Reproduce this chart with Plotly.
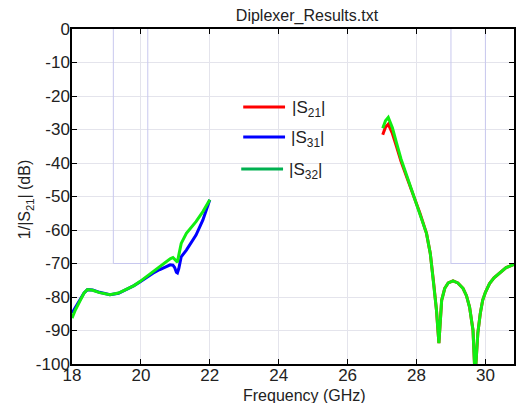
import plotly.graph_objects as go

# ---- data ----
freq_lo = [18.0, 18.1, 18.23, 18.35, 18.45, 18.6, 18.8, 19.1, 19.35, 19.6, 19.8, 19.97, 20.15, 20.35, 20.55, 20.75, 20.85, 20.93, 20.98, 21.03, 21.06, 21.1, 21.17, 21.32, 21.45, 21.6, 21.8, 21.9, 22.0]
s31_lo = [-84.8, -83.0, -81.0, -78.8, -77.8, -77.9, -78.6, -79.3, -78.9, -77.7, -76.6, -75.5, -74.2, -72.9, -71.8, -70.8, -70.4, -70.5, -71.2, -72.6, -72.8, -71.5, -68.0, -66.0, -63.8, -61.5, -57.0, -54.0, -51.0]
s32_lo = [-86.3, -83.8, -81.2, -78.8, -77.8, -78.0, -78.7, -79.3, -78.8, -77.6, -76.6, -75.4, -74.0, -72.5, -70.8, -69.2, -68.6, -68.2, -68.7, -69.5, -69.6, -67.5, -64.0, -61.0, -59.3, -57.5, -54.5, -52.8, -51.0]

freq_hi = [27.02, 27.1, 27.18, 27.3, 27.42, 27.55, 27.71, 27.82, 27.94, 28.1, 28.29, 28.4, 28.5, 28.58, 28.65, 28.69, 28.73, 28.82, 28.92, 29.06, 29.2, 29.35, 29.45, 29.54, 29.64, 29.7, 29.78, 29.85, 29.92, 30.0, 30.12, 30.25, 30.41, 30.6, 30.83]
s21_hi = [-31.6, -29.3, -28.4, -31.2, -35.1, -39.5, -44.0, -47.0, -50.5, -55.0, -61.0, -67.0, -76.0, -84.0, -93.8, -88.0, -81.0, -77.4, -75.8, -75.2, -75.8, -77.4, -79.6, -83.0, -89.9, -104.0, -90.8, -85.0, -81.0, -78.6, -76.0, -74.3, -72.8, -71.2, -70.3]
s32_hi = [-29.6, -27.4, -26.4, -29.5, -34.0, -38.8, -43.6, -46.8, -50.4, -55.0, -61.0, -67.0, -76.0, -84.0, -93.8, -88.0, -81.0, -77.4, -75.8, -75.2, -75.8, -77.4, -79.6, -83.0, -89.9, -104.0, -90.8, -85.0, -81.0, -78.6, -76.0, -74.3, -72.8, -71.2, -70.3]

mask1_x = [19.2, 19.2, 20.2, 20.2]
mask2_x = [29.0, 29.0, 30.0, 30.0]
mask_y = [0, -70, -70, 0]

x_ticks = [18, 20, 22, 24, 26, 28, 30]
y_ticks = [0, -10, -20, -30, -40, -50, -60, -70, -80, -90, -100]

legend_names = ["|S<sub>21</sub>|", "|S<sub>31</sub>|", "|S<sub>32</sub>|"]
legend_colors = ["#ff0000", "#0000ff", "#00b050"]

FONT = "Liberation Sans, Arial, sans-serif"
TXT = "#222222"
mask_color = "#c8c8ee"

fig = go.Figure()
for mx in (mask1_x, mask2_x):
    fig.add_trace(go.Scatter(x=mx, y=mask_y, mode="lines",
                             line=dict(color=mask_color, width=1), showlegend=False, hoverinfo="skip"))

fig.add_trace(go.Scatter(x=freq_hi, y=s21_hi, mode="lines", name="|S21|",
                         line=dict(color="#ff0000", width=3), showlegend=False))
fig.add_trace(go.Scatter(x=freq_lo, y=s31_lo, mode="lines", name="|S31|",
                         line=dict(color="#0000ff", width=3), showlegend=False))
fig.add_trace(go.Scatter(x=freq_lo, y=s32_lo, mode="lines", name="|S32|",
                         line=dict(color="#11ee11", width=3), showlegend=False))
fig.add_trace(go.Scatter(x=freq_hi, y=s32_hi, mode="lines", name="|S32|",
                         line=dict(color="#11ee11", width=3), showlegend=False))

# manual legend (pixel positions converted to paper coords)
L, T, W, H = 72, 29, 444, 335
def px(x): return (x - L) / W
def py(y): return (T + H - y) / H

leg_rows = [(107, 244, 286, 291), (137, 244, 286, 290), (169, 242, 284, 288)]
for (yy, x0, x1, tx), name, col in zip(leg_rows, legend_names, legend_colors):
    fig.add_shape(type="line", xref="paper", yref="paper",
                  x0=px(x0), x1=px(x1), y0=py(yy), y1=py(yy),
                  line=dict(color=col, width=3))
    fig.add_annotation(xref="paper", yref="paper", x=px(tx), y=py(yy + 2),
                       xanchor="left", yanchor="middle", text=name, showarrow=False,
                       font=dict(family=FONT, size=17, color=TXT))

fig.add_annotation(xref="paper", yref="paper", x=px(306), y=py(395),
                   xanchor="center", yanchor="middle", text="Frequency (GHz)",
                   showarrow=False, font=dict(family=FONT, size=16, color=TXT))
fig.add_annotation(xref="paper", yref="paper", x=px(25), y=py(200),
                   xanchor="center", yanchor="middle", text="1/|S<sub>21</sub>| (dB)",
                   textangle=-90, showarrow=False, font=dict(family=FONT, size=16, color=TXT))

fig.update_layout(
    width=516, height=403,
    margin=dict(l=L, r=0, t=T, b=403 - T - H),
    paper_bgcolor="white", plot_bgcolor="white",
    font=dict(family=FONT, size=16, color=TXT),
    title=dict(text="Diplexer_Results.txt", x=307 / 516, xanchor="center",
               y=1 - 15 / 403, yanchor="middle", font=dict(family=FONT, size=16, color=TXT)),
    showlegend=False,
)
fig.update_xaxes(range=[18, 30.83], tickvals=x_ticks, ticktext=[str(v) for v in x_ticks],
                 tickfont=dict(family=FONT, size=17, color=TXT), ticklabelstandoff=-5,
                 showgrid=True, gridcolor="#e4e4ec", gridwidth=1,
                 showline=True, linecolor="black", linewidth=1.5, mirror="ticks",
                 ticks="inside", ticklen=5, tickcolor="black", zeroline=False)
fig.update_yaxes(range=[-100, 0], tickvals=y_ticks, ticktext=[str(v) for v in y_ticks],
                 tickfont=dict(family=FONT, size=17, color=TXT), ticklabelstandoff=-3,
                 showgrid=True, gridcolor="#e4e4ec", gridwidth=1,
                 showline=True, linecolor="black", linewidth=1.5, mirror="ticks",
                 ticks="inside", ticklen=5, tickcolor="black", zeroline=False)

fig.write_html("out.html")
